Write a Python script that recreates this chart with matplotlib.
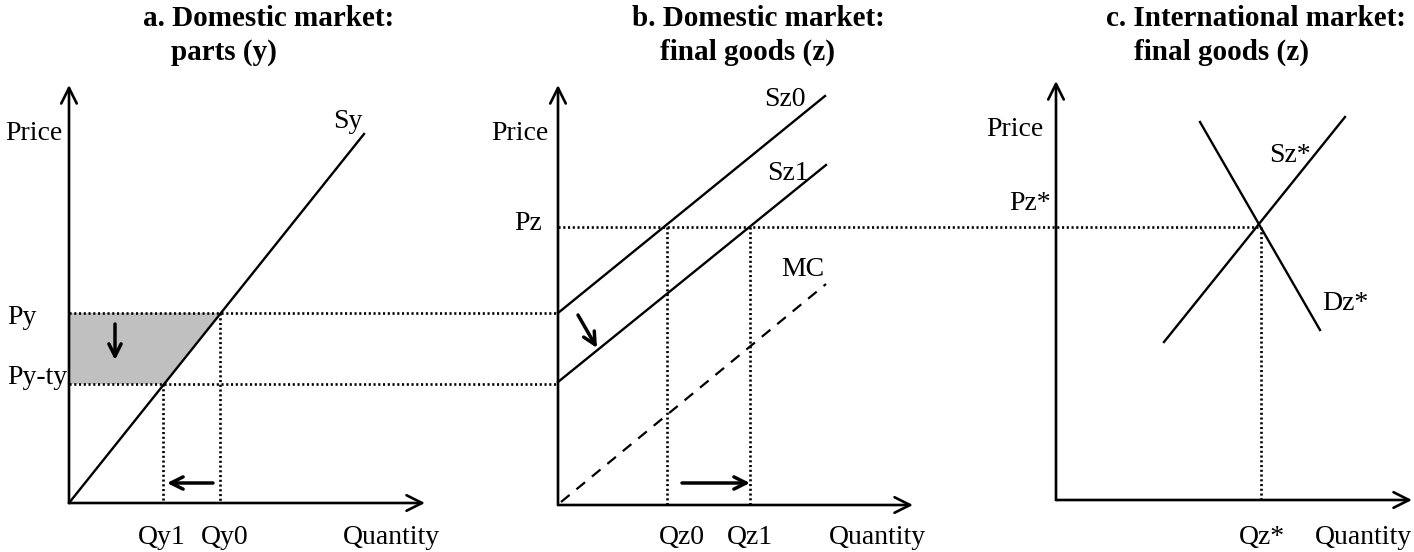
import matplotlib.pyplot as plt

plt.rcParams['font.family'] = ['Liberation Serif', 'DejaVu Serif']

# panel axes: origin (x, y) and arrow tips, image pixel units
origins = [(69, 503), (558, 505), (1056, 500)]
x_tips = [425, 913, 1412]
y_tips = [85, 85, 81]

# panel a: parts market
sy_x = [69, 364]
sy_y = [503, 134]
py, py_ty = 313, 384
qy0, qy1 = 220, 163

# panel b: final goods, domestic
sz0_x = [558, 825]
sz0_y = [313, 96]
sz1_x = [558, 826]
sz1_y = [382, 165]
mc_x = [561, 826]
mc_y = [502, 284]
pz = 227
qz0, qz1 = 667, 750

# panel c: international market
szs_x = [1164, 1345]
szs_y = [342, 117]
dzs_x = [1200, 1320]
dzs_y = [122, 330]
pzs_x = 1258

titles = [("a. Domestic market:", 269, "parts (y)", 224),
          ("b. Domestic market:", 758, "final goods (z)", 747),
          ("c. International market:", 1256, "final goods (z)", 1222)]

fig = plt.figure(figsize=(14.14, 5.52), dpi=100)
ax = fig.add_axes([0, 0, 1, 1])
ax.set_xlim(0, 1414)
ax.set_ylim(552, 0)
ax.axis('off')

dot = dict(color='black', lw=1.9, linestyle=(0, (0.8, 1.0)))
solid = dict(color='black', lw=1.7)
fs = 20

def arrow(x0, y0, x1, y1, lw=1.9, ms=28):
    ax.annotate('', xy=(x1, y1), xytext=(x0, y0),
                arrowprops=dict(arrowstyle='->', lw=lw, color='black',
                                mutation_scale=ms, shrinkA=0, shrinkB=0))

# axes
for (ox, oy), xt, yt in zip(origins, x_tips, y_tips):
    arrow(ox, oy, xt, oy)
    arrow(ox, oy, ox, yt)

# titles
for t1, c1, t2, c2 in titles:
    ax.text(c1, 18, t1, ha='center', va='center', fontsize=21, fontweight='bold')
    ax.text(c2, 52, t2, ha='center', va='center', fontsize=21, fontweight='bold')

# panel a
ax.fill([69, qy0, qy1, 69], [py, py, py_ty, py_ty], color='#c0c0c0', lw=0)
ax.plot(sy_x, sy_y, **solid)
ax.plot([69, 558], [py, py], **dot)
ax.plot([69, 558], [py_ty, py_ty], **dot)
ax.plot([qy0, qy0], [py, 503], **dot)
ax.plot([qy1, qy1], [py_ty, 503], **dot)
arrow(115, 324, 115, 360, lw=2.5, ms=22)
arrow(213, 483, 167, 483, lw=2.5, ms=22)
ax.text(5, 133, "Price", fontsize=fs, va='center')
ax.text(333, 122, "Sy", fontsize=fs, va='center')
ax.text(7, 318, "Py", fontsize=fs, va='center')
ax.text(7, 378, "Py-ty", fontsize=fs, va='center')
ax.text(162, 538, "Qy1", fontsize=fs, va='center', ha='center')
ax.text(225, 538, "Qy0", fontsize=fs, va='center', ha='center')
ax.text(391, 538, "Quantity", fontsize=fs, va='center', ha='center')

# panel b
ax.plot(sz0_x, sz0_y, **solid)
ax.plot(sz1_x, sz1_y, **solid)
ax.plot(mc_x, mc_y, color='black', lw=1.6, linestyle=(0, (5, 4)))
ax.plot([558, pzs_x], [pz, pz], **dot)
ax.plot([qz0, qz0], [pz, 505], **dot)
ax.plot([qz1, qz1], [pz, 505], **dot)
arrow(578, 315, 597, 348, lw=2.5, ms=22)
arrow(682, 483, 750, 483, lw=2.5, ms=22)
ax.text(520, 134, "Price", fontsize=fs, va='center', ha='center')
ax.text(528, 224, "Pz", fontsize=fs, va='center', ha='center')
ax.text(785, 100, "Sz0", fontsize=fs, va='center', ha='center')
ax.text(788, 173, "Sz1", fontsize=fs, va='center', ha='center')
ax.text(803, 270, "MC", fontsize=fs, va='center', ha='center')
ax.text(682, 538, "Qz0", fontsize=fs, va='center', ha='center')
ax.text(750, 538, "Qz1", fontsize=fs, va='center', ha='center')
ax.text(877, 538, "Quantity", fontsize=fs, va='center', ha='center')

# panel c
ax.plot(szs_x, szs_y, **solid)
ax.plot(dzs_x, dzs_y, **solid)
ax.plot([pzs_x + 3, pzs_x + 3], [pz, 500], **dot)
ax.text(1015, 129, "Price", fontsize=fs, va='center', ha='center')
ax.text(1030, 203, "Pz*", fontsize=fs, va='center', ha='center')
ax.text(1290, 155, "Sz*", fontsize=fs, va='center', ha='center')
ax.text(1345, 303, "Dz*", fontsize=fs, va='center', ha='center')
ax.text(1262, 538, "Qz*", fontsize=fs, va='center', ha='center')
ax.text(1363, 538, "Quantity", fontsize=fs, va='center', ha='center')

fig.savefig('out.png', dpi=100)
